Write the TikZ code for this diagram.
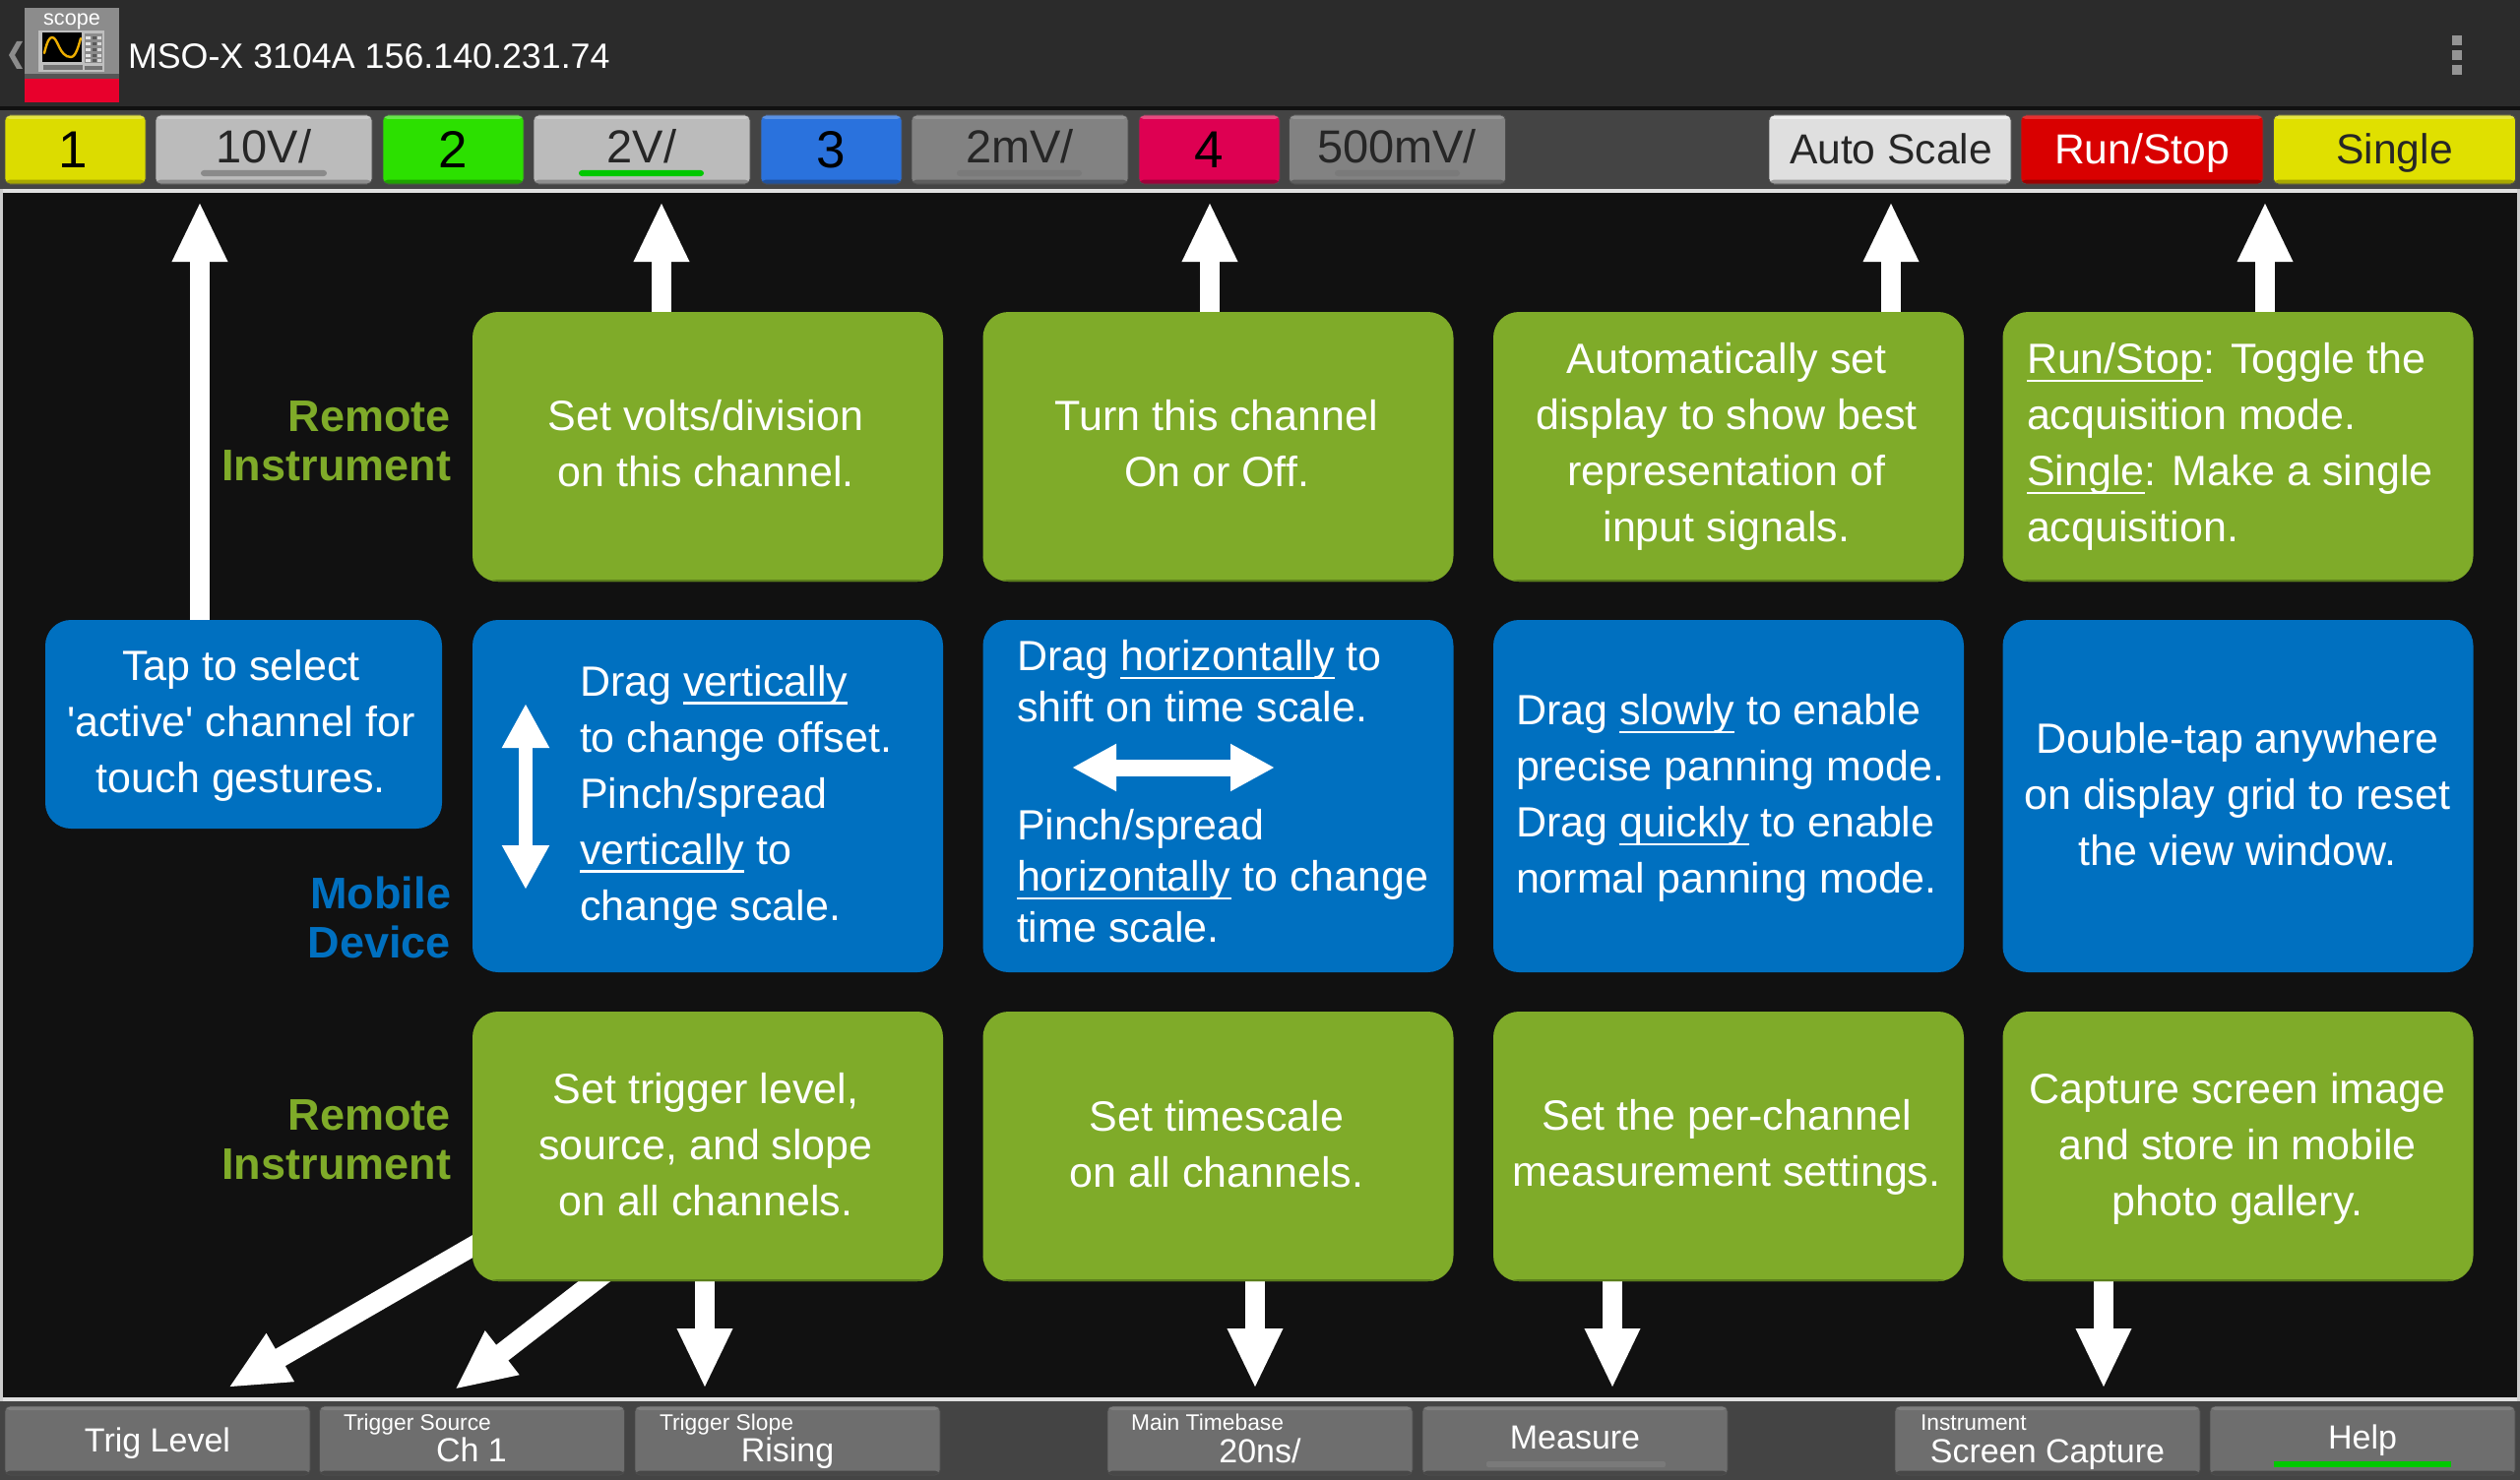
\documentclass[tikz,border=0pt]{standalone}
\usepackage{fontspec}
\setmainfont{Liberation Sans}
\newfontfamily\qf{Liberation Sans}
\usetikzlibrary{arrows.meta,backgrounds,calc}
\definecolor{bggray}{HTML}{111111}
\definecolor{topbar}{HTML}{2B2B2B}
\definecolor{toolbar}{HTML}{444444}
\definecolor{pgreen}{HTML}{7FAB29}
\definecolor{pgreendk}{HTML}{5C7F1C}
\definecolor{pblue}{HTML}{0070C0}
\definecolor{dtext}{HTML}{262626}
\definecolor{iconred}{HTML}{E8002C}
\definecolor{iconbg}{HTML}{8C8C8C}
\definecolor{icondk}{HTML}{555555}
\definecolor{sine}{HTML}{EEAE00}
\definecolor{ylw}{HTML}{DCDC00}\definecolor{ylwt}{HTML}{E6E640}\definecolor{ylwb}{HTML}{A8A800}
\definecolor{lg}{HTML}{BBBBBB}\definecolor{lgt}{HTML}{CCCCCC}\definecolor{lgb}{HTML}{8E8E8E}
\definecolor{grn}{HTML}{2CE000}\definecolor{grnt}{HTML}{66E84A}\definecolor{grnb}{HTML}{1FA300}
\definecolor{blu}{HTML}{2A72DD}\definecolor{blut}{HTML}{5A92E6}\definecolor{blub}{HTML}{1F52A0}
\definecolor{mg}{HTML}{828282}\definecolor{mgt}{HTML}{949494}\definecolor{mgb}{HTML}{5E5E5E}
\definecolor{crm}{HTML}{DE0052}\definecolor{crmt}{HTML}{E84A80}\definecolor{crmb}{HTML}{A0003A}
\definecolor{wht}{HTML}{DFDFDF}\definecolor{whtt}{HTML}{F0F0F0}\definecolor{whtb}{HTML}{A0A0A0}
\definecolor{red1}{HTML}{D90000}\definecolor{red1t}{HTML}{E83030}\definecolor{red1b}{HTML}{9E0000}
\definecolor{sgl}{HTML}{E0E000}\definecolor{sglt}{HTML}{E8E840}\definecolor{sglb}{HTML}{A8A800}
\definecolor{bg}{HTML}{6E6E6E}\definecolor{bgt}{HTML}{7E7E7E}\definecolor{bgb}{HTML}{474747}
\definecolor{barg}{HTML}{8A8A8A}\definecolor{bargn}{HTML}{00C800}\definecolor{barf}{HTML}{7A7A7A}
\newcommand\ulx[1]{\leavevmode\setbox0\hbox{#1}\rlap{\rule[-4.2pt]{\wd0}{1.1pt}}\box0\relax}
\tikzset{
  x=0.5pt,y=-0.5pt,
  flat/.style={draw=none,inner sep=0pt,outer sep=0pt},
  btnbase/.style args={#1/#2/#3}{flat,draw=black!70,line width=0.4pt,rounded corners=2.5pt,minimum height=35pt,fill=#1,
    path picture={
      \fill[#2] (path picture bounding box.north west) rectangle ([yshift=-2pt]path picture bounding box.north east);
      \fill[#3] (path picture bounding box.south west) rectangle ([yshift=2.2pt]path picture bounding box.south east);}},
  colbtn/.style={btnbase=#1,minimum width=71.5pt},
  valbtn/.style={btnbase=#1,minimum width=110pt},
  actbtn/.style={btnbase=#1,minimum width=123pt},
  botbtn/.style={btnbase=bg/bgt/bgb,minimum width=155pt},
  panelbase/.style={flat,rounded corners=13pt,minimum width=239pt},
  gpanel/.style={panelbase,fill=pgreen,minimum height=137pt,
    path picture={\fill[pgreendk] ([yshift=1pt]path picture bounding box.south west) rectangle (path picture bounding box.south east);}},
  bpanel/.style={panelbase,fill=pblue,minimum height=179pt},
  ptext/.style={flat,text=white,align=center,font=\fontsize{21.5pt}{28.5pt}\selectfont},
  ptextl/.style={ptext,align=left},
  ptexts/.style={ptextl,font=\fontsize{21.5pt}{26pt}\selectfont},
  sidelabel/.style={flat,align=right,anchor=east,font=\fontsize{22.5pt}{25pt}\selectfont\bfseries},
  lbtn/.style={flat,anchor=base,font=\fontsize{23.5pt}{24pt}\selectfont,text=dtext},
  lnum/.style={flat,anchor=base,font=\fontsize{26.5pt}{27pt}\selectfont,text=black},
  lact/.style={flat,anchor=base,font=\fontsize{21.3pt}{22pt}\selectfont,text=dtext},
  lbot/.style={flat,anchor=base,font=\fontsize{17pt}{18pt}\selectfont,text=white},
  lsmall/.style={flat,anchor=base west,font=\fontsize{11.4pt}{12pt}\selectfont,text=white},
  bigarrow/.style={draw=white,line width=10pt,-{Triangle[length=30.5pt,width=26pt,fill=white]}},
  dblarrow/.style={draw=white,line width=#1,{Triangle[length=22.5pt,width=22.5pt,fill=white]}-{Triangle[length=22.5pt,width=22.5pt,fill=white]}},
}
\begin{document}
\begin{tikzpicture}
\useasboundingbox (0,0) rectangle (2560,1504);
\begin{scope}[on background layer]
  \fill[topbar] (0,0) rectangle (2560,108);
  \fill[bggray] (0,108) rectangle (2560,112);
  \fill[toolbar] (0,112) rectangle (2560,192);
  \fill[bggray] (0,192) rectangle (2560,1424);
  \fill[toolbar] (0,1424) rectangle (2560,1504);
  \fill[white!88!black] (0,192) rectangle (2560,196);
  \fill[white!88!black] (0,1420) rectangle (2560,1424);
  \fill[white!80!black] (0,192) rectangle (3,1424);
  \fill[white!80!black] (2557,192) rectangle (2560,1424);
\end{scope}
% app bar
\fill[white!55!black] (23,42) -- (17,42) -- (9,56) -- (17,70) -- (23,70) -- (15,56) -- cycle;
\fill[iconbg] (25,8) rectangle (121,75);
\fill[icondk] (25,75) rectangle (121,80);
\fill[iconred] (25,80) rectangle (121,104);
\fill[white!75!black] (39,31) rectangle (106,73);
\fill[black] (43,33) rectangle (83,63);
\draw[sine,line width=1.2pt,line cap=round] (45,54) .. controls (48,42) and (50,38) .. (53,38) .. controls (59,38) and (60,58) .. (72,58) .. controls (77,58) and (80,46) .. (82,39);
\fill[white!55!black] (86,34) rectangle (104,64);
\foreach \yy in {37,43,49,55,60} {\fill[white!90!black] (87,\yy) rectangle (92,\yy+3); \fill[white!35!black] (94,\yy) rectangle (98,\yy+3); \fill[white!85!black] (99,\yy) rectangle (103,\yy+3);}
\fill[white!45!black] (44,66) rectangle (84,71);
\fill[white!45!black] (86,67) rectangle (104,71);
\node[flat,anchor=base,text=white,font=\fontsize{10.8pt}{11pt}\selectfont] (scopelabel) at (73,26) {scope};
\node[flat,anchor=base west,text=white,font=\fontsize{17.9pt}{18pt}\selectfont] (title) at (130,70) {MSO-X 3104A 156.140.231.74};
\fill[white!58!black] (2491,36) rectangle (2501,46);
\fill[white!58!black] (2491,51) rectangle (2501,61);
\fill[white!58!black] (2491,66) rectangle (2501,76);
% top buttons
\node[colbtn=ylw/ylwt/ylwb] (b1) at (76.5,152) {};
\node[valbtn=lg/lgt/lgb] (v1) at (268,152) {};
\node[colbtn=grn/grnt/grnb] (b2) at (460.5,152) {};
\node[valbtn=lg/lgt/lgb] (v2) at (652,152) {};
\node[colbtn=blu/blut/blub] (b3) at (844.5,152) {};
\node[valbtn=mg/mgt/mgb] (v3) at (1036,152) {};
\node[colbtn=crm/crmt/crmb] (b4) at (1228.5,152) {};
\node[valbtn=mg/mgt/mgb] (v4) at (1419.5,152) {};
\node[actbtn=wht/whtt/whtb] (auto) at (1920,152) {};
\node[actbtn=red1/red1t/red1b] (run) at (2176,152) {};
\node[actbtn=sgl/sglt/sglb] (single) at (2432.5,152) {};
\node[lnum] (t1) at (74.5,170) {1};
\node[lbtn] (tv1) at (268,165) {10V/};
\node[lnum] (t2) at (460.5,170) {2};
\node[lbtn] (tv2) at (652,165) {2V/};
\node[lnum] (t3) at (844.5,170) {3};
\node[lbtn] (tv3) at (1036,165) {2mV/};
\node[lnum] (t4) at (1228.5,170) {4};
\node[lbtn] (tv4) at (1419,165) {500mV/};
\fill[barg,rounded corners=1.5pt] (204,173) rectangle (332,179);
\fill[bargn,rounded corners=1.5pt] (588,173) rectangle (715,179);
\fill[barf,rounded corners=1.5pt] (972,173) rectangle (1099,179);
\fill[barf,rounded corners=1.5pt] (1356,173) rectangle (1483,179);
\node[lact] (tauto) at (1921,167) {Auto Scale};
\node[lact,text=white] (trun) at (2176,167) {Run/Stop};
\node[lact] (tsingle) at (2432.5,167) {Single};
% bottom buttons
\node[botbtn] (s1) at (160,1464) {};
\node[botbtn] (s2) at (479.5,1464) {};
\node[botbtn] (s3) at (800,1464) {};
\node[botbtn] (s4) at (1280,1464) {};
\node[botbtn] (s5) at (1600,1464) {};
\node[botbtn] (s6) at (2080,1464) {};
\node[botbtn] (s7) at (2400,1464) {};
\node[lbot] (ts1) at (160,1475) {Trig Level};
\node[lsmall] (ts2a) at (349,1453) {Trigger Source};
\node[lbot] (ts2b) at (479,1485) {Ch 1};
\node[lsmall] (ts3a) at (670,1453) {Trigger Slope};
\node[lbot] (ts3b) at (800,1485) {Rising};
\node[lsmall] (ts4a) at (1149,1453) {Main Timebase};
\node[lbot] (ts4b) at (1280,1486) {20ns/};
\node[lbot] (ts5) at (1600,1472) {Measure};
\fill[barf,rounded corners=1pt] (1510,1485) rectangle (1692,1491);
\node[lsmall] (ts6a) at (1951,1453) {Instrument};
\node[lbot] (ts6b) at (2080,1486) {Screen Capture};
\node[lbot] (ts7) at (2400,1472) {Help};
\fill[bargn] (2310,1485) rectangle (2490,1491);
% panels
\node[gpanel] (a1) at (719,454) {};
\node[gpanel] (a2) at (1237.5,454) {};
\node[gpanel] (a3) at (1756,454) {};
\node[gpanel] (a4) at (2273.5,454) {};
\node[panelbase,minimum width=201.5pt,minimum height=106pt,fill=pblue] (left) at (247.5,736) {};
\node[bpanel] (m1) at (719,809) {};
\node[bpanel] (m2) at (1237.5,809) {};
\node[bpanel] (m3) at (1756,809) {};
\node[bpanel] (m4) at (2273.5,809) {};
\node[gpanel] (c1) at (719,1165) {};
\node[gpanel] (c2) at (1237.5,1165) {};
\node[gpanel] (c3) at (1756,1165) {};
\node[gpanel] (c4) at (2273.5,1165) {};
% panel texts
\node[ptext] (ta1) at (717,450.5) {Set volts/division\\on this channel.};
\node[ptext] (ta2) at (1236,450.5) {Turn this channel\\On or Off.};
\node[ptext] (ta3) at (1754,454) {Automatically set\\display to show best\\representation of\\input signals.};
\node[ptextl,anchor=west] (ta4) at (2059,454) {\ulx{Run/Stop}: Toggle the\\acquisition mode.\\\ulx{Single}: Make a single\\acquisition.};
\node[ptext] (tleft) at (245,737) {Tap to select\\{\qf'}active{\qf'} channel for\\touch gestures.};
\node[ptextl,anchor=west] (tm1) at (589,810) {Drag \ulx{vertically}\\to change offset.\\Pinch/spread\\\ulx{vertically} to\\change scale.};
\node[ptexts,anchor=west] (tm2a) at (1033,692) {Drag \ulx{horizontally} to\\shift on time scale.};
\node[ptexts,anchor=west] (tm2b) at (1033,890) {Pinch/spread\\\ulx{horizontally} to change\\time scale.};
\node[ptextl,anchor=west] (tm3) at (1540,811) {Drag \ulx{slowly} to enable\\precise panning mode.\\Drag \ulx{quickly} to enable\\normal panning mode.};
\node[ptext] (tm4) at (2273,807) {Double-tap anywhere\\on display grid to reset\\the view window.};
\node[ptext] (tc1) at (717,1163) {Set trigger level,\\source, and slope\\on all channels.};
\node[ptext] (tc2) at (1236,1162.5) {Set timescale\\on all channels.};
\node[ptext] (tc3) at (1754,1166) {Set the per-channel\\measurement settings.};
\node[ptext] (tc4) at (2273,1167) {Capture screen image\\and store in mobile\\photo gallery.};
% side labels
\node[sidelabel,text=pgreen] (ra) at (458,448) {Remote\\Instrument};
\node[sidelabel,text=pblue] (mob) at (458,932) {Mobile\\Device};
\node[sidelabel,text=pgreen] (rb) at (458,1158) {Remote\\Instrument};
% connector ends
\coordinate (u1) at (203,205);
\coordinate (u2) at (672,205);
\coordinate (u3) at (1229,205);
\coordinate (u4) at (1921,205);
\coordinate (u5) at (2301,205);
\coordinate (d3) at (716,1411);
\coordinate (d4) at (1275,1411);
\coordinate (d5) at (1638,1411);
\coordinate (d6) at (2137,1411);
\coordinate (da) at (232,1410);
\coordinate (db) at (462,1412);
\coordinate (vt) at (534,715);
\coordinate (vb) at (534,904);
\coordinate (hl) at (1089,780);
\coordinate (hr) at (1295,780);
% connectors
\begin{scope}[on background layer]
  \draw[bigarrow] (left.north -| u1) -- (u1);
  \draw[bigarrow] (a1.north -| u2) -- (u2);
  \draw[bigarrow] (a2.north -| u3) -- (u3);
  \draw[bigarrow] (a3.north -| u4) -- (u4);
  \draw[bigarrow] (a4.north -| u5) -- (u5);
  \draw[bigarrow] (c1.south -| d3) -- (d3);
  \draw[bigarrow] (c2.south -| d4) -- (d4);
  \draw[bigarrow] (c3.south -| d5) -- (d5);
  \draw[bigarrow] (c4.south -| d6) -- (d6);
  \draw[bigarrow] ([shift={(40,-58.5)}]c1.south west) -- (da);
  \draw[bigarrow] ([shift={(140,-12.4)}]c1.south west) -- (db);
\end{scope}
\draw[dblarrow=7pt] (vt) -- (vb);
\draw[dblarrow=8.5pt] (hl) -- (hr);
\end{tikzpicture}
\end{document}
